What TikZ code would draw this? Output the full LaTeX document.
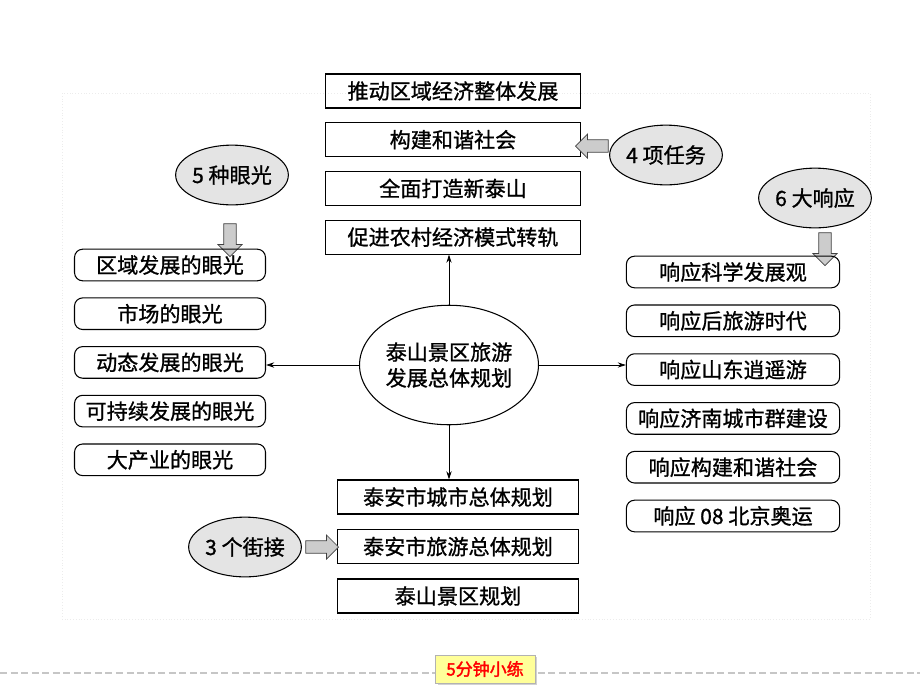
\documentclass[tikz,border=0pt]{standalone}
\usepackage{fontspec}
\newfontfamily\cjk[FakeBold=1]{Noto Sans CJK SC}
\newfontfamily\cjkbold[FakeBold=2]{Noto Sans CJK SC}
\usetikzlibrary{arrows.meta,shapes.geometric,shapes.arrows,shadows}

\definecolor{ovalgray}{RGB}{228,228,228}
\definecolor{btnyellow}{RGB}{255,255,153}

\tikzset{
    bigtext/.style={font=\cjk\fontsize{18}{22}\selectfont},
    taskbox/.style={bigtext, draw, line width=0.9pt, minimum width=217pt, minimum height=29pt, inner sep=0pt},
    linkbox/.style={taskbox, minimum width=205pt},
    viewbox/.style={bigtext, draw, line width=0.9pt, rounded corners=7pt, minimum width=163pt, minimum height=27pt, inner sep=0pt},
    echobox/.style={viewbox, minimum width=182pt},
    tagoval/.style={bigtext, ellipse, draw, line width=0.9pt, fill=ovalgray, minimum width=90pt, minimum height=51pt, inner sep=0pt},
    coreoval/.style={tagoval, fill=white, minimum width=134pt, minimum height=102pt, align=center},
    fatarrow/.style={single arrow, draw=black!75, line width=0.6pt, fill=gray!40, minimum height=28pt, inner sep=5pt, single arrow head extend=5pt},
    thinarrow/.style={-{Stealth[length=7pt,width=4.5pt]}, line width=0.7pt},
    practice/.style={draw=gray!60, fill=btnyellow, drop shadow={shadow xshift=2pt, shadow yshift=-2pt, fill=gray!70}, minimum width=85pt, minimum height=24pt, text=red, font=\cjkbold\fontsize{14.5}{17}\selectfont}
}

\begin{document}
\begin{tikzpicture}[x=0.03cm,y=-0.03cm]
    \useasboundingbox (0,0) rectangle (920,690);
    % page frame and footer
    \draw[gray!15, dotted] (62,93) rectangle (870,619);
    \draw[gray!45, line width=1pt, dash pattern=on 6pt off 3pt] (0,673) -- (920,673);
    \node[practice] (lian) at (485,669) {5分钟小练};

    % centre
    \node[coreoval] (core) at (449,365) {泰山景区旅游\\发展总体规划};

    % 4 tasks
    \foreach \t [count=\i] in {推动区域经济整体发展,构建和谐社会,全面打造新泰山,促进农村经济模式转轨}
    {
        \node[taskbox] (T\i) at (453,{42.3+48.7*\i}) {\t};
    }
    \node[tagoval] (task) at (666,155) {4 项任务};
    \node[fatarrow, rotate=180] (taskarr) at (595,146) {};

    % 5 views
    \node[tagoval] (view) at (232,175) {5 种眼光};
    \node[fatarrow, rotate=-90] (viewarr) at (230,237) {};
    \foreach \t [count=\i] in {区域发展的眼光,市场的眼光,动态发展的眼光,可持续发展的眼光,大产业的眼光}
    {
        \node[viewbox] (L\i) at (170,{216.3+48.7*\i}) {\t};
    }

    % 6 responses
    \node[tagoval] (echo) at (815,198) {6 大响应};
    \node[fatarrow, rotate=-90] (echoarr) at (825,246) {};
    \foreach \t [count=\i] in {响应科学发展观,响应后旅游时代,响应山东逍遥游,响应济南城市群建设,响应构建和谐社会,响应 08 北京奥运}
    {
        \node[echobox] (R\i) at (733,{223.2+48.8*\i}) {\t};
    }

    % 3 links
    \foreach \t [count=\i] in {泰安市城市总体规划,泰安市旅游总体规划,泰山景区规划}
    {
        \node[linkbox] (B\i) at (458,{447.5+49.5*\i}) {\t};
    }
    \node[tagoval] (link) at (245,547) {3 个街接};
    \node[fatarrow] (linkarr) at (319,547) {};

    % connectors from the centre
    \draw[thinarrow] (core.north) -- (core.north |- T4.south);
    \draw[thinarrow] (core.west) -- (core.west -| L3.east);
    \draw[thinarrow] (core.east) -- (core.east -| R3.west);
    \draw[thinarrow] (core.south) -- (core.south |- B1.north);
\end{tikzpicture}
\end{document}
